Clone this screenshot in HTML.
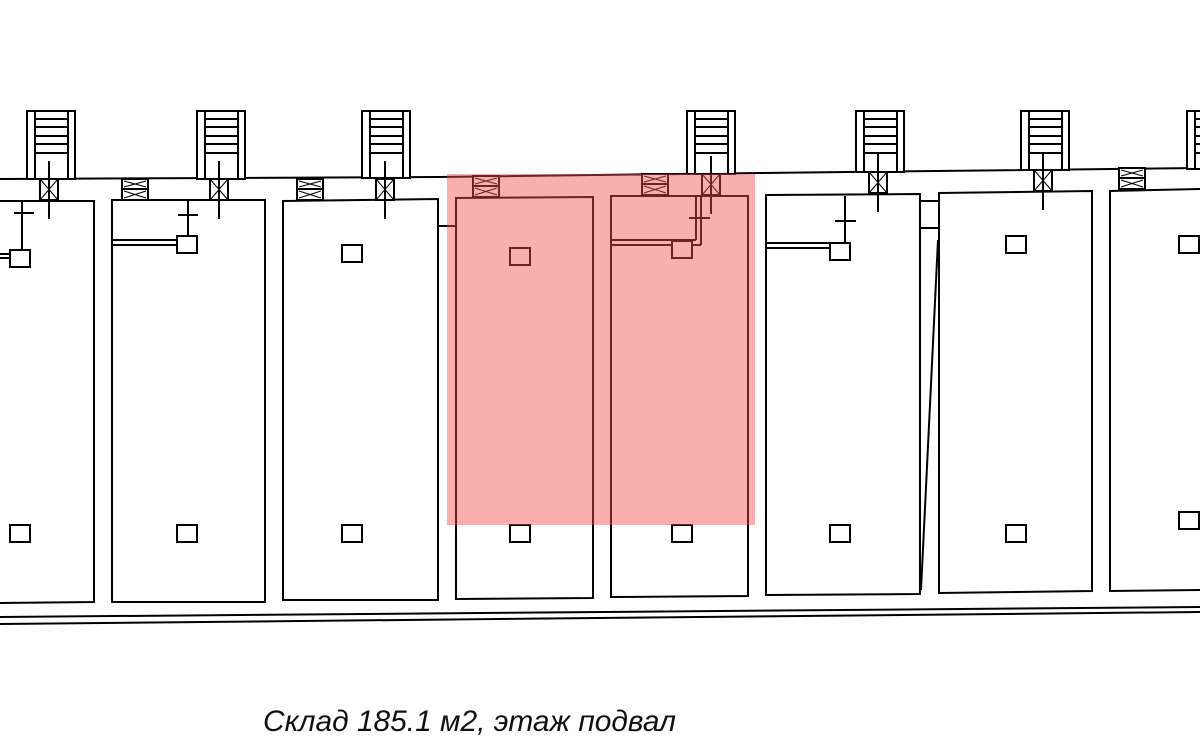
<!DOCTYPE html>
<html><head><meta charset="utf-8"><style>
html,body{margin:0;padding:0;background:#fff;width:1200px;height:745px;overflow:hidden}
svg{display:block}
</style></head><body>
<svg width="1200" height="745" viewBox="0 0 1200 745" xmlns="http://www.w3.org/2000/svg">
<g fill="none" stroke="#000" stroke-width="2">
<polyline points="0,179 440,177 760,173 1200,168"/>
<line x1="0" y1="617" x2="1200" y2="607"/>
<line x1="0" y1="624" x2="1200" y2="612"/>
<polygon points="-2,201 94,201 94,602 -2,603"/>
<polygon points="112,200 265,200 265,602 112,602"/>
<polygon points="283,201 438,199 438,600 283,600"/>
<polygon points="456,198 593,197 593,598 456,599"/>
<polygon points="611,196 748,196 748,596 611,597"/>
<polygon points="766,195 920,194 920,594 766,595"/>
<polygon points="939,193 1092,191 1092,591 939,593"/>
<polygon points="1110,191 1202,189 1202,590 1110,591"/>
<line x1="438" y1="226" x2="456" y2="226"/>
<line x1="920" y1="201" x2="939" y2="201"/>
<line x1="920" y1="228" x2="939" y2="228"/>
<line x1="938" y1="240" x2="921" y2="590"/>
</g>
<g fill="#fff" stroke="#000" stroke-width="2">
<defs>
<g id="steps">
<line x1="35" y1="119" x2="68" y2="119"/><line x1="35" y1="127" x2="68" y2="127"/>
<line x1="35" y1="136" x2="68" y2="136"/><line x1="35" y1="144" x2="68" y2="144"/>
<line x1="35" y1="153" x2="68" y2="153"/>
</g>
</defs>
<!-- towers: x, bottom -->
<g><rect x="27" y="111" width="48" height="68"/><line x1="35" y1="111" x2="35" y2="179"/><line x1="68" y1="111" x2="68" y2="179"/><use href="#steps"/></g>
<g transform="translate(170,0)"><rect x="27" y="111" width="48" height="68"/><line x1="35" y1="111" x2="35" y2="179"/><line x1="68" y1="111" x2="68" y2="179"/><use href="#steps"/></g>
<g transform="translate(335,0)"><rect x="27" y="111" width="48" height="67"/><line x1="35" y1="111" x2="35" y2="178"/><line x1="68" y1="111" x2="68" y2="178"/><use href="#steps"/></g>
<g transform="translate(660,0)"><rect x="27" y="111" width="48" height="63"/><line x1="35" y1="111" x2="35" y2="174"/><line x1="68" y1="111" x2="68" y2="174"/><use href="#steps"/></g>
<g transform="translate(829,0)"><rect x="27" y="111" width="48" height="61"/><line x1="35" y1="111" x2="35" y2="172"/><line x1="68" y1="111" x2="68" y2="172"/><use href="#steps"/></g>
<g transform="translate(994,0)"><rect x="27" y="111" width="48" height="59"/><line x1="35" y1="111" x2="35" y2="170"/><line x1="68" y1="111" x2="68" y2="170"/><use href="#steps"/></g>
<g transform="translate(1160,0)"><rect x="27" y="111" width="48" height="58"/><line x1="35" y1="111" x2="35" y2="169"/><line x1="68" y1="111" x2="68" y2="169"/><use href="#steps"/></g>
<g id="sd">
<rect x="40" y="179" width="18" height="21"/>
<line x1="40" y1="179" x2="58" y2="200" stroke-width="1"/><line x1="58" y1="179" x2="40" y2="200" stroke-width="1"/>
<line x1="49" y1="161" x2="49" y2="219"/>
</g>
<use href="#sd" x="170" y="0"/>
<use href="#sd" x="336" y="0"/>
<use href="#sd" x="662" y="-5"/>
<use href="#sd" x="829" y="-7"/>
<use href="#sd" x="994" y="-9"/>
<g id="dd">
<rect x="122" y="179" width="26" height="21"/>
<line x1="122" y1="189" x2="148" y2="189"/>
<line x1="124" y1="181" x2="146" y2="187" stroke-width="1"/><line x1="146" y1="181" x2="124" y2="187" stroke-width="1"/>
<line x1="124" y1="191" x2="146" y2="198" stroke-width="1"/><line x1="146" y1="191" x2="124" y2="198" stroke-width="1"/>
</g>
<use href="#dd" x="175" y="0"/>
<use href="#dd" x="351" y="-3"/>
<use href="#dd" x="520" y="-5"/>
<use href="#dd" x="997" y="-11"/>
<line x1="22" y1="201" x2="22" y2="252"/>
<line x1="14" y1="213" x2="34" y2="213"/>
<line x1="0" y1="254" x2="10" y2="254"/><line x1="0" y1="258" x2="10" y2="258"/>
<line x1="112" y1="240" x2="177" y2="240"/><line x1="112" y1="245" x2="177" y2="245"/>
<line x1="188" y1="200" x2="188" y2="236"/><line x1="178" y1="215" x2="198" y2="215"/>
<line x1="611" y1="240" x2="696" y2="240"/><line x1="611" y1="245" x2="672" y2="245"/>
<line x1="696" y1="197" x2="696" y2="240"/><line x1="701" y1="197" x2="701" y2="245"/><line x1="692" y1="245" x2="701" y2="245"/>
<line x1="689" y1="218" x2="710" y2="218"/>
<line x1="766" y1="243" x2="830" y2="243"/><line x1="766" y1="248" x2="830" y2="248"/>
<line x1="845" y1="196" x2="845" y2="243"/><line x1="835" y1="221" x2="856" y2="221"/>
<rect x="10" y="250" width="20" height="17"/>
<rect x="177" y="236" width="20" height="17"/>
<rect x="342" y="245" width="20" height="17"/>
<rect x="510" y="248" width="20" height="17"/>
<rect x="672" y="241" width="20" height="17"/>
<rect x="830" y="243" width="20" height="17"/>
<rect x="1006" y="236" width="20" height="17"/>
<rect x="1179" y="236" width="20" height="17"/>
<rect x="10" y="525" width="20" height="17"/>
<rect x="177" y="525" width="20" height="17"/>
<rect x="342" y="525" width="20" height="17"/>
<rect x="510" y="525" width="20" height="17"/>
<rect x="672" y="525" width="20" height="17"/>
<rect x="830" y="525" width="20" height="17"/>
<rect x="1006" y="525" width="20" height="17"/>
<rect x="1179" y="512" width="20" height="17"/>
</g>
<rect x="447" y="174" width="308" height="351" fill="rgba(246,75,75,0.45)"/>
<text x="263" y="731" font-family="'Liberation Sans', sans-serif" font-style="italic" font-size="30" textLength="413" lengthAdjust="spacingAndGlyphs" fill="#111">Склад 185.1 м2, этаж подвал</text>
</svg>
</body></html>
